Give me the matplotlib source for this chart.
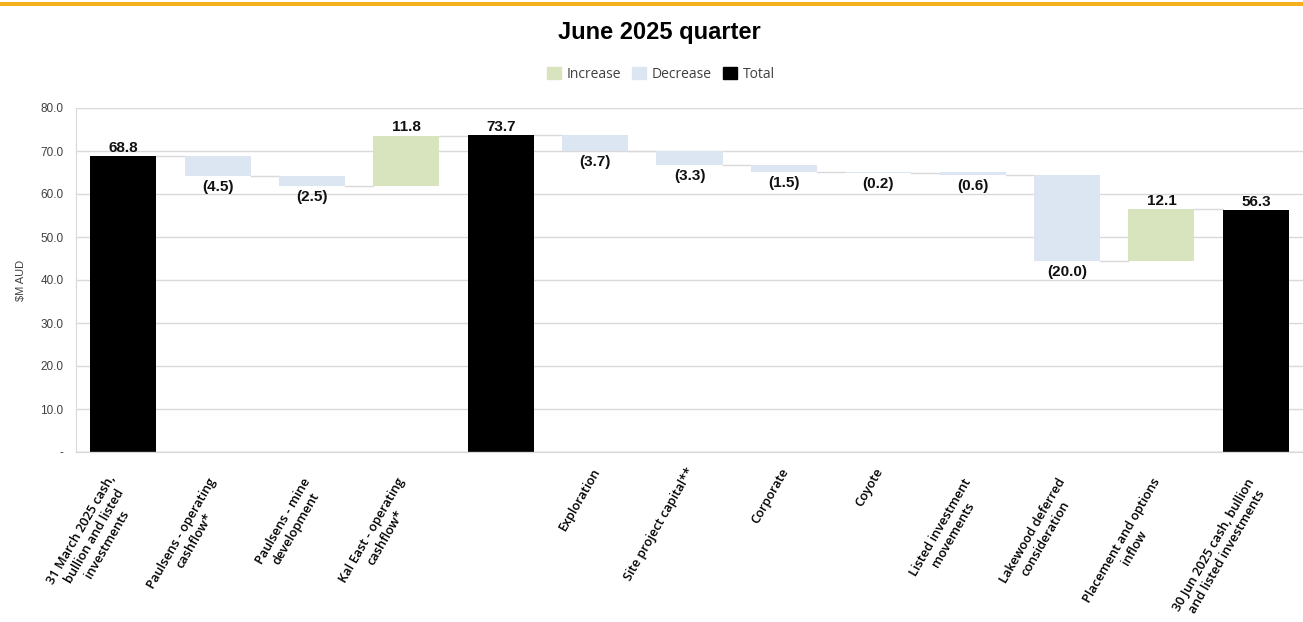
import matplotlib
matplotlib.use("Agg")
import matplotlib.pyplot as plt
from matplotlib.patches import Patch, Rectangle

categories = [
    "31 March 2025 cash,\nbullion and listed\ninvestments",
    "Paulsens - operating\ncashflow*",
    "Paulsens - mine\ndevelopment",
    "Kal East - operating\ncashflow*",
    "",
    "Exploration",
    "Site project capital**",
    "Corporate",
    "Coyote",
    "Listed investment\nmovements",
    "Lakewood deferred\nconsideration",
    "Placement and options\ninflow",
    "30 Jun 2025 cash, bullion\nand listed investments",
]
values = [68.8, -4.5, -2.5, 11.8, 73.7, -3.7, -3.3, -1.5, -0.2, -0.6, -20.0, 12.1, 56.3]
kinds = ["total", "dec", "dec", "inc", "total", "dec", "dec", "dec", "dec", "dec", "dec", "inc", "total"]
yticks = [0, 10, 20, 30, 40, 50, 60, 70, 80]
ytick_labels = ["-", "10.0", "20.0", "30.0", "40.0", "50.0", "60.0", "70.0", "80.0"]

C_INC = "#D7E4BD"
C_DEC = "#DCE6F2"
C_TOT = "#000000"
C_GRID = "#D9D9D9"
PX = 0.72  # points per pixel at dpi 100

fig = plt.figure(figsize=(13.03, 6.22), dpi=100)
ax = fig.add_axes([76 / 1303, 1 - 452 / 622, 1 - 76 / 1303, (452 - 108) / 622])

# top orange band
fig.add_artist(Rectangle((0, 1 - 6 / 622), 1, 4 / 622, transform=fig.transFigure,
                         color="#F6B01E", lw=0))

running = 0.0
bottoms, heights, cols = [], [], []
for v, k in zip(values, kinds):
    if k == "total":
        bottoms.append(0.0)
        heights.append(v)
        cols.append(C_TOT)
        running = v
    else:
        if v >= 0:
            bottoms.append(running)
            heights.append(v)
            cols.append(C_INC)
        else:
            bottoms.append(running + v)
            heights.append(-v)
            cols.append(C_DEC)
        running += v

x = list(range(len(values)))
w = 0.7
ax.bar(x, heights, bottom=bottoms, width=w, color=cols, zorder=3)

# connectors
levels = []
for b, h, k, v in zip(bottoms, heights, kinds, values):
    levels.append(b + h if (k == "total" or v >= 0) else b)
for i in range(len(values) - 1):
    ax.plot([i + w / 2, i + 1 - w / 2], [levels[i], levels[i]], color=C_GRID, lw=1, zorder=2)

# data labels
for i, (b, h, k, v) in enumerate(zip(bottoms, heights, kinds, values)):
    if k == "dec":
        ax.annotate("({:.1f})".format(-v), (i, b), xytext=(0, -3), textcoords="offset points",
                    ha="center", va="top", fontsize=11, fontweight="bold",
                    family="Liberation Sans", color="#111111", zorder=5)
    else:
        ax.annotate("{:.1f}".format(v), (i, b + h), xytext=(0, 1), textcoords="offset points",
                    ha="center", va="bottom", fontsize=11, fontweight="bold",
                    family="Liberation Sans", color="#111111", zorder=5)

ax.set_xlim(-0.5, len(values) - 0.5)
ax.set_ylim(0, 80)
ax.set_yticks(yticks)
ax.set_yticklabels(ytick_labels, fontsize=8.5, family="Liberation Sans", color="#404040")
ax.yaxis.grid(True, color=C_GRID, lw=1, zorder=0)
ax.set_axisbelow(True)
ax.tick_params(axis="y", length=0, pad=9)
ax.set_xticks(x)
ax.set_xticklabels([])
ax.tick_params(axis="x", length=0)

# category labels (rotated, wrapped)
for i, lab in enumerate(categories):
    if not lab:
        continue
    extra = 14 if "\n" in lab else 0
    ax.annotate(lab, xy=(i, 0), xycoords=("data", "axes fraction"),
                xytext=(2 * PX, -(17 + extra) * PX), textcoords="offset points",
                rotation=60, rotation_mode="anchor", ha="right", va="center",
                multialignment="center", linespacing=1.2,
                fontsize=9.2, family="Open Sans", fontweight="semibold", color="#000000",
                annotation_clip=False)

for s in ["top", "right"]:
    ax.spines[s].set_visible(False)
ax.spines["left"].set_color(C_GRID)
ax.spines["bottom"].set_color(C_GRID)
ax.axhline(0, color="#BFBFBF", lw=1, zorder=4)

ax.set_ylabel("$M AUD", fontsize=8, family="Liberation Sans", color="#404040")
ax.yaxis.set_label_coords(-50 / 1227, 0.5)

fig.text(659 / 1303, 1 - 33 / 622, "June 2025 quarter", ha="center", va="center",
         fontsize=17, fontweight="bold", family="Liberation Sans")

handles = [Patch(color=C_INC, label="Increase"), Patch(color=C_DEC, label="Decrease"),
           Patch(color=C_TOT, label="Total")]
fig.legend(handles=handles, loc="center", bbox_to_anchor=(661 / 1303, 1 - 74 / 622), ncol=3,
           frameon=False, handlelength=1.0, handleheight=1.0, handletextpad=0.4, columnspacing=0.8,
           prop={"family": "Open Sans", "size": 10}, labelcolor="#404040")

fig.savefig("out.png", dpi=100)
